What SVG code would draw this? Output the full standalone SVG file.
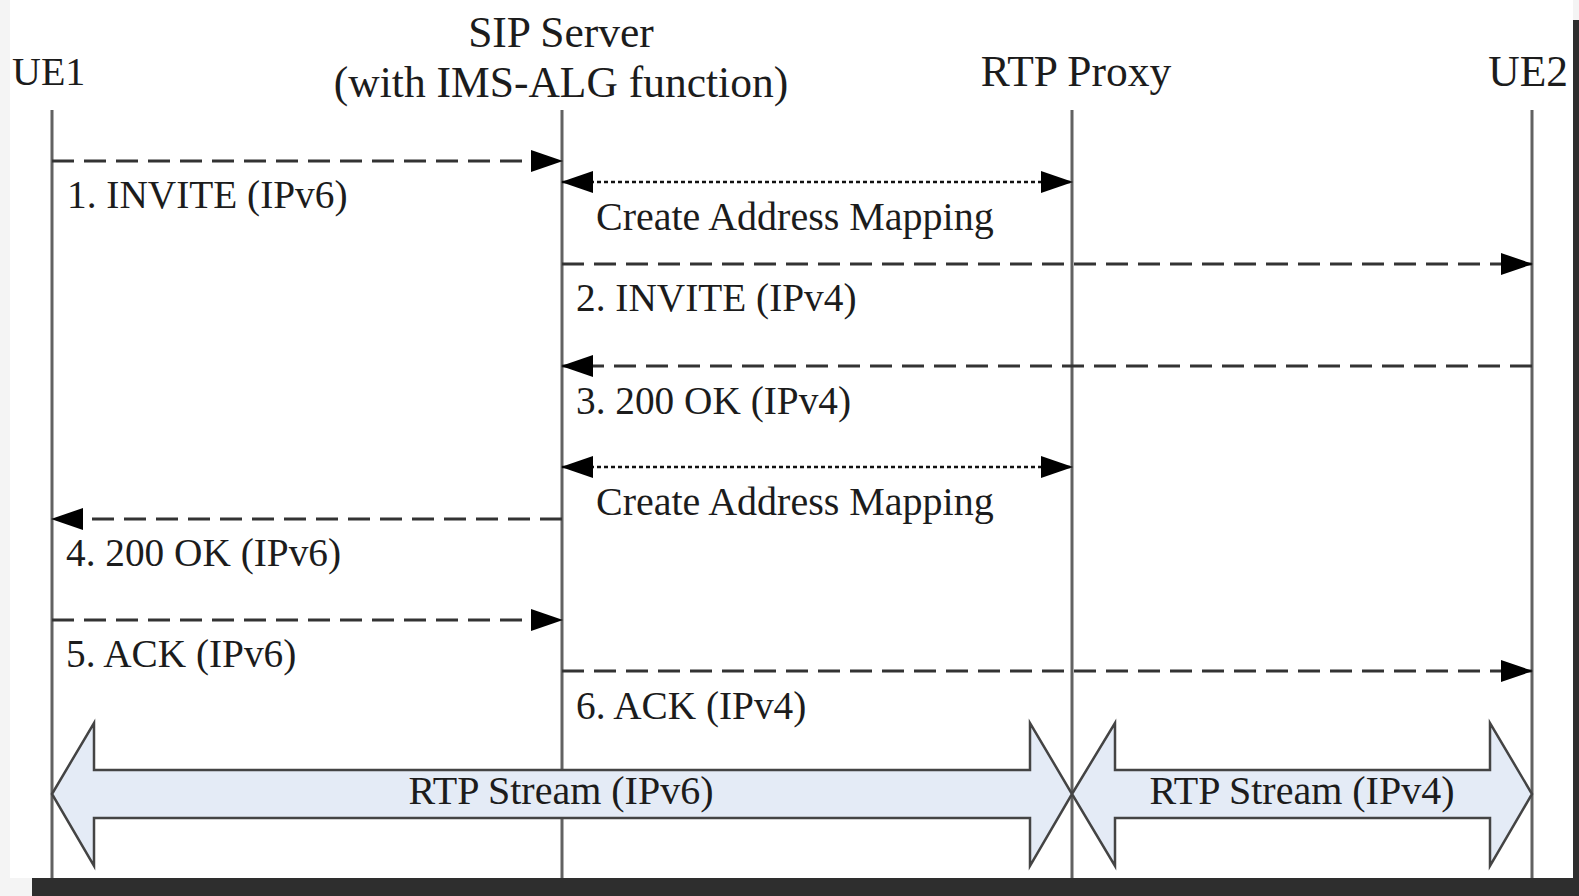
<svg xmlns="http://www.w3.org/2000/svg" width="1579" height="896" viewBox="0 0 1579 896">
<style>
.t{font-family:"Liberation Serif","Times New Roman",serif;font-size:40px;fill:#1c1c1c}
.h{font-size:43.5px}
.m{font-size:39.3px}
.life{stroke:#626262;stroke-width:3;fill:none}
.msg{stroke:#333;stroke-width:3;stroke-dasharray:22 10;fill:none}
.map{stroke:#111;stroke-width:2.5;stroke-dasharray:4 3;fill:none}
.fat{fill:#e4ebf6;stroke:#444;stroke-width:2.5;stroke-linejoin:miter}
</style>
<defs>
<marker id="ah" markerUnits="userSpaceOnUse" markerWidth="32" markerHeight="22" refX="31" refY="11" orient="auto-start-reverse" viewBox="0 0 32 22">
<path d="M0,0 L32,11 L0,22 z" fill="#000"/>
</marker>
</defs>
<rect x="0" y="0" width="1579" height="896" fill="#fff"/>
<rect x="0" y="0" width="10" height="896" fill="#f4f4f4"/>
<rect x="1573" y="0" width="6" height="20" fill="#f4f4f4"/>
<rect x="0" y="878" width="32" height="18" fill="#f4f4f4"/>

<g id="ue1"><text class="t" x="12" y="85">UE1</text><line class="life" x1="52" y1="110" x2="52" y2="878"/></g>
<g id="sip"><text class="t h" x="561" y="47" text-anchor="middle">SIP Server</text><text class="t h" x="561" y="97" text-anchor="middle">(with IMS-ALG function)</text><line class="life" x1="562" y1="110" x2="562" y2="878"/></g>
<g id="rtp"><text class="t h" x="1076" y="86" text-anchor="middle">RTP Proxy</text><line class="life" x1="1072" y1="110" x2="1072" y2="878"/></g>
<g id="ue2"><text class="t h" x="1568" y="86" text-anchor="end">UE2</text><line class="life" x1="1532" y1="110" x2="1532" y2="878"/></g>

<g id="connectors">
<line class="msg" x1="52" y1="161" x2="562" y2="161" marker-end="url(#ah)"/>
<text class="t m" x="67" y="208">1. INVITE (IPv6)</text>
<line class="map" x1="562" y1="182" x2="1072" y2="182" marker-start="url(#ah)" marker-end="url(#ah)"/>
<text class="t" x="596" y="230">Create Address Mapping</text>
<line class="msg" x1="562" y1="264" x2="1532" y2="264" marker-end="url(#ah)"/>
<text class="t m" x="576" y="311">2. INVITE (IPv4)</text>
<line class="msg" x1="1532" y1="366" x2="562" y2="366" marker-end="url(#ah)"/>
<text class="t m" x="576" y="414">3. 200 OK (IPv4)</text>
<line class="map" x1="562" y1="467" x2="1072" y2="467" marker-start="url(#ah)" marker-end="url(#ah)"/>
<text class="t" x="596" y="515">Create Address Mapping</text>
<line class="msg" x1="562" y1="519" x2="52" y2="519" marker-end="url(#ah)"/>
<text class="t m" x="66" y="566">4. 200 OK (IPv6)</text>
<line class="msg" x1="52" y1="620" x2="562" y2="620" marker-end="url(#ah)"/>
<text class="t m" x="66" y="667">5. ACK (IPv6)</text>
<line class="msg" x1="562" y1="671" x2="1532" y2="671" marker-end="url(#ah)"/>
<text class="t m" x="576" y="719">6. ACK (IPv4)</text>
</g>

<g id="rtp-ipv6">
<path class="fat" d="M52,794 L94,723 L94,770 L1030,770 L1030,723 L1072,794 L1030,866 L1030,818 L94,818 L94,866 Z"/>
<text class="t" x="561" y="804" text-anchor="middle">RTP Stream (IPv6)</text>
</g>
<g id="rtp-ipv4">
<path class="fat" d="M1072,794 L1115,723 L1115,770 L1490,770 L1490,723 L1532,794 L1490,866 L1490,818 L1115,818 L1115,866 Z"/>
<text class="t" x="1302" y="804" text-anchor="middle">RTP Stream (IPv4)</text>
</g>

<rect x="1573" y="20" width="6" height="876" fill="#2e2e2e"/>
<rect x="32" y="878" width="1547" height="18" fill="#2e2e2e"/>
</svg>
